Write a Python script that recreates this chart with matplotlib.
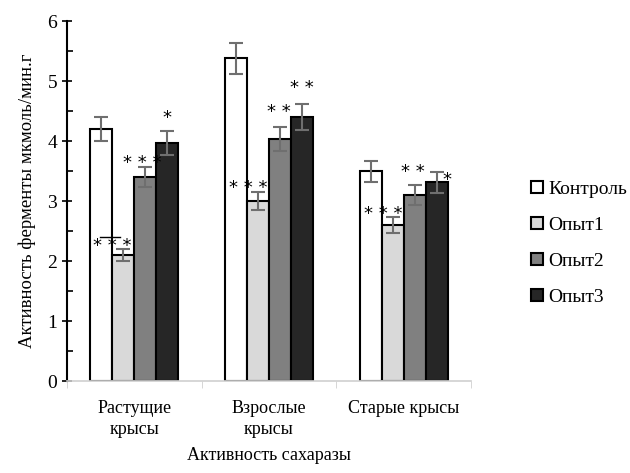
import matplotlib.pyplot as plt
import numpy as np
from matplotlib.lines import Line2D
from matplotlib.ticker import MultipleLocator, FixedLocator

FONT = 'Liberation Serif'

# Data
categories = ['Растущие\nкрысы', 'Взрослые\nкрысы', 'Старые крысы']
series = ['Контроль', 'Опыт1', 'Опыт2', 'Опыт3']
control = [4.2, 5.38, 3.5]
exp1 = [2.1, 3.0, 2.6]
exp2 = [3.4, 4.04, 3.1]
exp3 = [3.96, 4.4, 3.31]
control_err = [0.2, 0.26, 0.175]
exp1_err = [0.1, 0.15, 0.13]
exp2_err = [0.17, 0.2, 0.16]
exp3_err = [0.2, 0.22, 0.17]
# significance marks: (category, series index, text)
marks = [(0, 1, '***'), (0, 2, '***'), (0, 3, '*'),
         (1, 1, '***'), (1, 2, '**'), (1, 3, '**'),
         (2, 1, '***'), (2, 2, '**'), (2, 3, '*')]

values = [control, exp1, exp2, exp3]
errors = [control_err, exp1_err, exp2_err, exp3_err]
colors = ['#ffffff', '#d9d9d9', '#808080', '#262626']

fig = plt.figure(figsize=(6.3, 4.73), dpi=100)
ax = fig.add_axes([0.106, 0.1945, 0.642, 0.761])

x = np.arange(len(categories))
w = 0.163
for i, (vals, errs) in enumerate(zip(values, errors)):
    pos = x + (i - 1.5) * w
    ax.bar(pos, vals, w, color=colors[i], edgecolor='black', linewidth=1.5, zorder=2)
    ax.errorbar(pos, vals, yerr=errs, fmt='none', ecolor='#6f6f6f',
                elinewidth=1.5, capsize=5, capthick=1.5, zorder=3)

# asterisk positions (offsets relative to bar: x in bar widths, y in data units)
mark_off = {
    (0, 1): (-0.5, 0.05), (0, 2): (-0.15, 0.07), (0, 3): (0.0, 0.22),
    (1, 1): (-0.45, 0.07), (1, 2): (-0.05, 0.25), (1, 3): (0.0, 0.27),
    (2, 1): (-0.45, 0.06), (2, 2): (-0.1, 0.23), (2, 3): (0.45, -0.13),
}
for c, s, txt in marks:
    dx, dy = mark_off[(c, s)]
    xp = x[c] + (s - 1.5) * w + dx * w
    yp = values[s][c] + errors[s][c] + dy
    ax.text(xp, yp, ' '.join(txt), ha='center', va='center', fontsize=13,
            family='DejaVu Sans', zorder=4)
# underline under first mark
ax.plot([x[0] - 1.25 * w - 0.05, x[0] - 0.35 * w - 0.05], [2.4, 2.4],
        color='black', linewidth=1, zorder=4)

ax.set_xlim(-0.5, 2.5)
ax.set_ylim(0, 6)
ax.set_yticks(range(7))
ax.set_yticklabels([str(v) for v in range(7)], family=FONT, fontsize=14)
ax.yaxis.set_minor_locator(MultipleLocator(0.5))
ax.set_xticks(x)
ax.set_xticklabels(categories, fontsize=13, linespacing=1.25, family=FONT)
ax.xaxis.set_minor_locator(FixedLocator([-0.5, 0.5, 1.5, 2.5]))
ax.tick_params(axis='x', which='major', length=0, pad=14)
ax.tick_params(axis='x', which='minor', length=5, color='#d0d0d0', direction='out')
ax.tick_params(axis='y', which='major', direction='inout', length=7, width=1.2)
ax.tick_params(axis='y', which='minor', direction='in', length=4, width=1.2)

for sp in ['top', 'right']:
    ax.spines[sp].set_visible(False)
ax.spines['left'].set_linewidth(1.5)
ax.spines['bottom'].set_color('#d0d0d0')
ax.spines['bottom'].set_linewidth(1.2)

ax.set_ylabel('Активность ферменты мкмоль/мин.г', fontsize=13.5, labelpad=8, family=FONT)
ax.set_xlabel('Активность сахаразы', fontsize=13, labelpad=7, family=FONT)

handles = [Line2D([], [], marker='s', linestyle='none', markersize=9,
                  markerfacecolor=colors[i], markeredgecolor='black',
                  markeredgewidth=1.5) for i in range(4)]
fig.legend(handles, series, loc='upper left', bbox_to_anchor=(0.83, 0.635),
           frameon=False, prop={'family': FONT, 'size': 14}, handlelength=0.7,
           handletextpad=0.2, labelspacing=0.95, borderaxespad=0)

fig.savefig('out.png', dpi=100)
